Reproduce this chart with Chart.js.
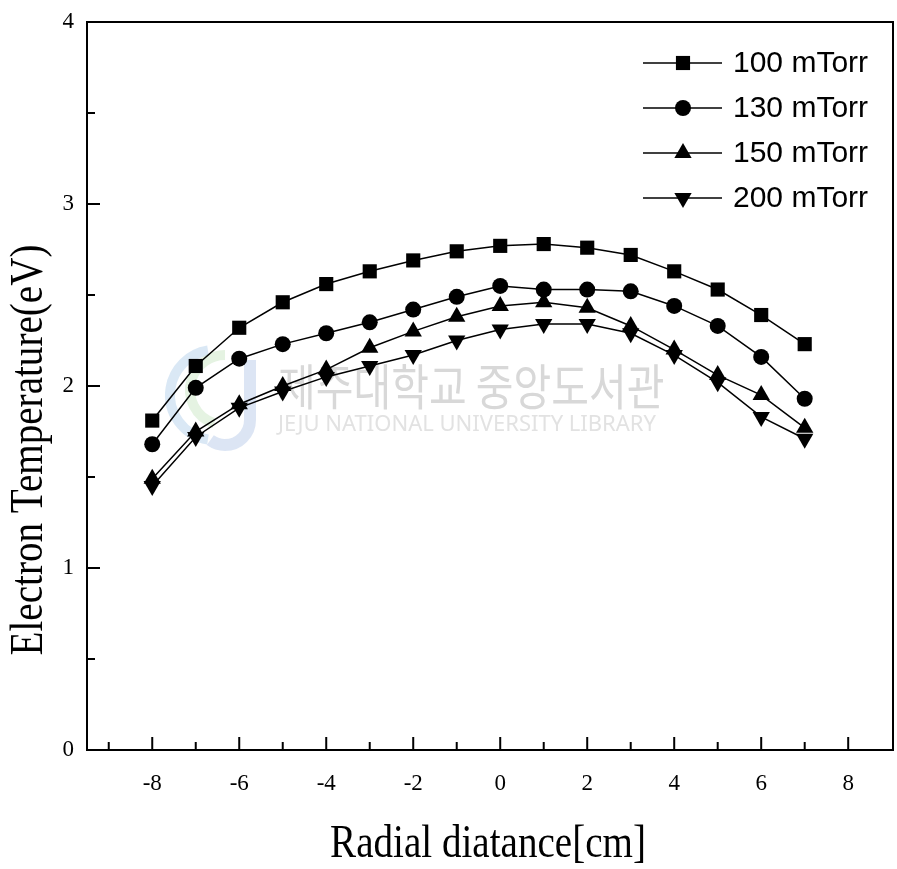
<!DOCTYPE html>
<html>
<head>
<meta charset="utf-8">
<script src="https://cdn.jsdelivr.net/npm/chart.js@4.4.1/dist/chart.umd.min.js"></script>
<style>
  html, body { margin: 0; padding: 0; background: #fff; overflow: hidden; }
  #wrap { width: 897px; height: 869px; position: relative; }
</style>
</head>
<body>
<div id="wrap"><canvas id="tempChart"></canvas></div>
<script>
// radial position [cm]
const positions = [-8, -7, -6, -5, -4, -3, -2, -1, 0, 1, 2, 3, 4, 5, 6, 7];
// electron temperature [eV] per pressure
const te100 = [1.81, 2.11, 2.32, 2.46, 2.56, 2.63, 2.69, 2.74, 2.77, 2.78, 2.76, 2.72, 2.63, 2.53, 2.39, 2.23];
const te130 = [1.68, 1.99, 2.15, 2.23, 2.29, 2.35, 2.42, 2.49, 2.55, 2.53, 2.53, 2.52, 2.44, 2.33, 2.16, 1.93];
const te150 = [1.49, 1.75, 1.90, 2.00, 2.09, 2.21, 2.30, 2.38, 2.44, 2.46, 2.43, 2.33, 2.20, 2.06, 1.95, 1.77];
const te200 = [1.45, 1.72, 1.88, 1.97, 2.05, 2.11, 2.17, 2.25, 2.31, 2.34, 2.34, 2.29, 2.17, 2.02, 1.83, 1.71];
const seriesLabels = ['100 mTorr', '130 mTorr', '150 mTorr', '200 mTorr'];

const serif = '"Liberation Serif", "Times New Roman", serif';

function toPoints(ys) {
    return positions.map((x, i) => ({ x: x, y: ys[i] }));
}

function series(label, ys, style, radius, rotation) {
    return {
        label: label,
        data: toPoints(ys),
        borderColor: '#000',
        backgroundColor: '#000',
        borderWidth: 1.5,
        pointStyle: style,
        pointRadius: radius,
        pointRotation: rotation || 0,
        pointBorderWidth: 0,
        tension: 0,
    };
}

// frame, inward ticks, titles, watermark, legend
const paperPlugin = {
    id: 'paper',
    beforeDatasetsDraw(chart) {
        const ctx = chart.ctx;
        ctx.save();
        // faint logo
        ctx.lineWidth = 10;
        ctx.strokeStyle = 'rgba(150,190,225,0.35)';
        ctx.beginPath();
        ctx.arc(215, 395, 45, Math.PI * 0.55, Math.PI * 1.45);
        ctx.stroke();
        ctx.strokeStyle = 'rgba(170,215,160,0.3)';
        ctx.beginPath();
        ctx.arc(225, 390, 35, Math.PI * 0.6, Math.PI * 1.5);
        ctx.stroke();
        ctx.strokeStyle = 'rgba(140,170,220,0.3)';
        ctx.lineWidth = 12;
        ctx.beginPath();
        ctx.moveTo(250, 360);
        ctx.lineTo(250, 420);
        ctx.arc(225, 420, 25, 0, Math.PI * 0.7);
        ctx.stroke();

        ctx.fillStyle = '#d8d8d8';
        ctx.font = '41px "Noto Sans CJK KR"';
        ctx.textBaseline = 'middle';
        ctx.save();
        ctx.translate(278, 386);
        ctx.scale(1, 1.2);
        ctx.fillText('제주대학교 중앙도서관', 0, 0);
        ctx.restore();
        ctx.font = '22px "Noto Sans"';
        ctx.fillStyle = '#e2e2e2';
        ctx.fillText('JEJU NATIONAL UNIVERSITY LIBRARY', 278, 425);
        ctx.restore();
    },
    afterDraw(chart) {
        const ctx = chart.ctx;
        const a = chart.chartArea;
        const xs = chart.scales.x;
        const ys = chart.scales.y;
        ctx.save();
        ctx.strokeStyle = '#000';
        ctx.lineWidth = 2;
        ctx.strokeRect(a.left, a.top, a.right - a.left, a.bottom - a.top);

        ctx.lineWidth = 2;
        ctx.beginPath();
        for (let v = -9; v <= 8; v++) {
            const px = xs.getPixelForValue(v);
            const len = v % 2 === 0 ? 13 : 8;
            ctx.moveTo(px, a.bottom);
            ctx.lineTo(px, a.bottom - len);
        }
        for (let v = 0.5; v < 4; v += 0.5) {
            const py = ys.getPixelForValue(v);
            const len = Number.isInteger(v) ? 13 : 8;
            ctx.moveTo(a.left, py);
            ctx.lineTo(a.left + len, py);
        }
        ctx.stroke();

        // axis titles
        ctx.fillStyle = '#000';
        ctx.font = '46px ' + serif;
        ctx.textAlign = 'center';
        ctx.textBaseline = 'middle';
        ctx.save();
        ctx.translate(488, 845);
        ctx.scale(0.85, 1);
        ctx.fillText('Radial diatance[cm]', 0, 0);
        ctx.restore();
        ctx.save();
        ctx.translate(30, 450);
        ctx.rotate(-Math.PI / 2);
        ctx.scale(0.85, 1);
        ctx.fillText('Electron Temperature(eV)', 0, 0);
        ctx.restore();

        // legend
        const rows = [63, 108, 153, 198];
        ctx.font = '30px "Liberation Sans", Arial, sans-serif';
        ctx.textAlign = 'left';
        chart.data.datasets.forEach((ds, i) => {
            const y = rows[i];
            ctx.strokeStyle = '#000';
            ctx.lineWidth = 1.5;
            ctx.beginPath();
            ctx.moveTo(643, y);
            ctx.lineTo(722, y);
            ctx.stroke();
            ctx.fillStyle = '#000';
            Chart.helpers.drawPoint(ctx, {
                pointStyle: ds.pointStyle,
                radius: ds.pointRadius,
                rotation: ds.pointRotation,
                borderWidth: 0,
            }, 683, y);
            ctx.fillText(ds.label, 733, y + 1);
        });
        ctx.restore();
    },
};

new Chart(document.getElementById('tempChart'), {
    type: 'line',
    data: {
        datasets: [
            series(seriesLabels[0], te100, 'rect', 10),
            series(seriesLabels[1], te130, 'circle', 8),
            series(seriesLabels[2], te150, 'triangle', 10),
            series(seriesLabels[3], te200, 'triangle', 10, 180),
        ],
    },
    plugins: [paperPlugin],
    options: {
        responsive: true,
        maintainAspectRatio: false,
        animation: false,
        layout: {
            autoPadding: false,
            padding: { top: 22, right: 4, left: 0, bottom: 0 },
        },
        plugins: {
            legend: { display: false },
            tooltip: { enabled: false },
        },
        scales: {
            x: {
                type: 'linear',
                min: -9.5,
                max: 9.03,
                afterFit: (s) => { s.height = 119; s.paddingLeft = 0; s.paddingRight = 0; },
                grid: { display: false, drawTicks: false },
                border: { display: false },
                ticks: {
                    stepSize: 2,
                    includeBounds: false,
                    padding: 20,
                    color: '#000',
                    font: { family: serif, size: 23 },
                },
            },
            y: {
                min: 0,
                max: 4,
                afterFit: (s) => { s.width = 87; s.paddingTop = 0; s.paddingBottom = 0; },
                grid: { display: false, drawTicks: false },
                border: { display: false },
                ticks: {
                    stepSize: 1,
                    padding: 13,
                    color: '#000',
                    font: { family: serif, size: 23 },
                },
            },
        },
    },
});
</script>
</body>
</html>
